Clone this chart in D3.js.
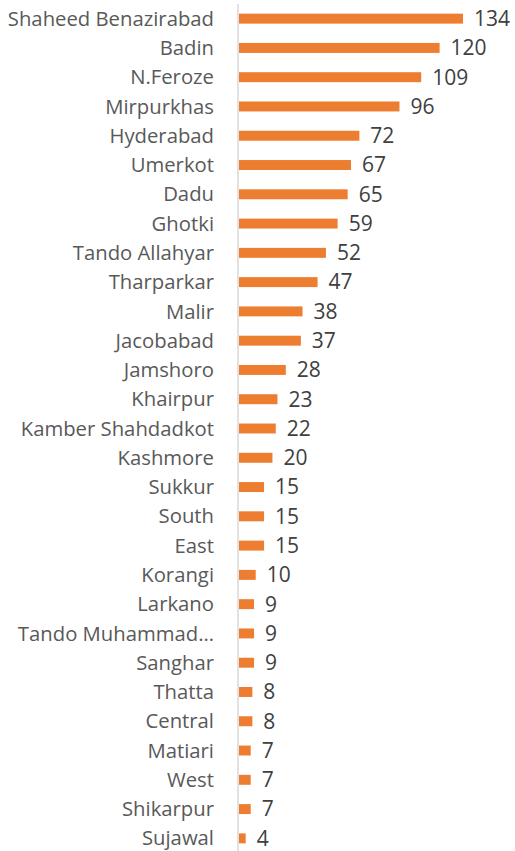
<!DOCTYPE html>
<html>
<head>
<script src="https://d3js.org/d3.v7.min.js" charset="utf-8"></script>
<style>
    body{
        margin:0;
        background:white;
        font-family:"Open Sans", sans-serif;
    }
</style>
</head>
<body>
<div id="chart"></div>
<script>

    var districts = ["Shaheed Benazirabad","Badin","N.Feroze","Mirpurkhas","Hyderabad","Umerkot","Dadu","Ghotki",
        "Tando Allahyar","Tharparkar","Malir","Jacobabad","Jamshoro","Khairpur","Kamber Shahdadkot","Kashmore",
        "Sukkur","South","East","Korangi","Larkano","Tando Muhammad\u2026","Sanghar","Thatta","Central","Matiari",
        "West","Shikarpur","Sujawal"]
    var cases = [134,120,109,96,72,67,65,59,52,47,38,37,28,23,22,20,15,15,15,10,9,9,9,8,8,7,7,7,4]

    var width = 515, height = 851
    var axisX = 238

    var svg = d3.select("#chart").append("svg")
        .attr("width",width)
        .attr("height",height)

    var xScale = d3.scaleLinear().domain([0,134]).range([axisX+1,463])
    var yScale = d3.scaleBand().domain(districts).range([4,853]).paddingInner(0.66).paddingOuter(0.33)

    // category axis line
    svg.append("line")
        .attr("x1",axisX).attr("x2",axisX)
        .attr("y1",4).attr("y2",height)
        .attr("stroke","#d9d9d9")
        .attr("stroke-width",1.5)

    svg.selectAll("rect.bar")
        .data(cases)
        .enter()
        .append("rect")
        .attr("class","bar")
        .attr("x",xScale(0))
        .attr("y",function(d,i){return yScale(districts[i])})
        .attr("width",function(d){return xScale(d)-xScale(0)})
        .attr("height",yScale.bandwidth())
        .attr("fill","#ed7d31")

    svg.selectAll("text.cat")
        .data(districts)
        .enter()
        .append("text")
        .attr("class","cat")
        .attr("x",214)
        .attr("y",function(d){return yScale(d)+yScale.bandwidth()/2})
        .attr("dy","0.35em")
        .attr("text-anchor","end")
        .attr("font-size",20.3)
        .attr("fill","#595959")
        .text(function(d){return d})

    svg.selectAll("text.val")
        .data(cases)
        .enter()
        .append("text")
        .attr("class","val")
        .attr("x",function(d){return xScale(d)+11})
        .attr("y",function(d,i){return yScale(districts[i])+yScale.bandwidth()/2})
        .attr("dy","0.35em")
        .attr("font-size",21)
        .attr("fill","#404040")
        .text(function(d){return d})

</script>
</body>
</html>
